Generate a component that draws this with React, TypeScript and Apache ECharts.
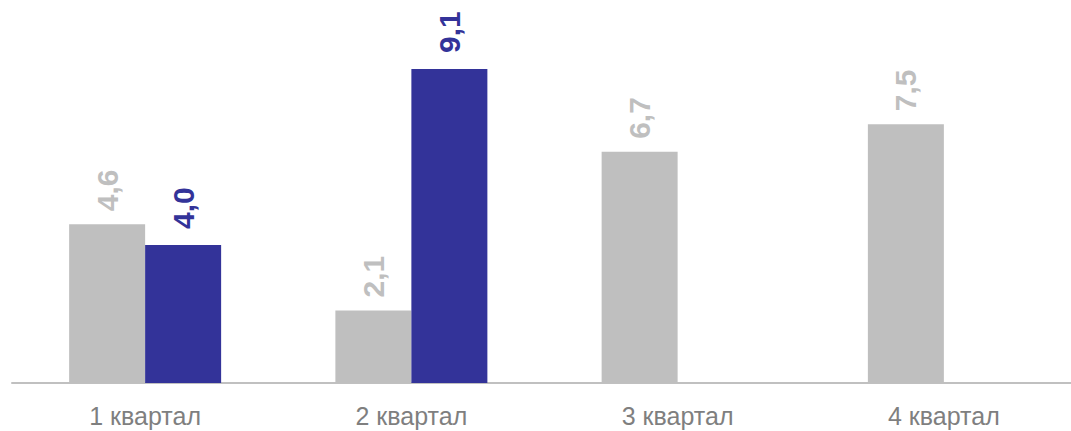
import React, { useEffect, useRef } from "react";
import * as echarts from "echarts";

const categories = ["1 квартал", "2 квартал", "3 квартал", "4 квартал"];
const prevValues = [4.6, 2.1, 6.7, 7.5];
const currValues: (number | null)[] = [4.0, 9.1, null, null];

const FONT = "'Liberation Sans', Arial, sans-serif";

const fmt = (p: any) =>
  p.value == null ? "" : Number(p.value).toFixed(1).replace(".", ",");

export default function App() {
  const ref = useRef<HTMLDivElement>(null);
  useEffect(() => {
    if (!ref.current) return;
    const chart = echarts.init(ref.current, null, { renderer: "svg" });
    chart.setOption({
      animation: false,
      backgroundColor: "#ffffff",
      grid: {
        left: 12,
        width: 1065,
        top: 38,
        height: 345,
        containLabel: false,
        outerBoundsMode: "none",
      },
      xAxis: {
        type: "category",
        data: categories,
        axisLine: { show: true, lineStyle: { color: "#c0c0c0", width: 2 } },
        axisTick: { show: false },
        axisLabel: {
          color: "#7f7f7f",
          fontSize: 25,
          fontFamily: FONT,
          margin: 20,
        },
      },
      yAxis: {
        type: "value",
        min: 0,
        max: 10,
        show: false,
        splitLine: { show: false },
      },
      series: [
        {
          type: "bar",
          data: prevValues,
          barWidth: 76,
          barGap: "0%",
          itemStyle: { color: "#bfbfbf" },
          label: {
            show: true,
            position: "top",
            rotate: 90,
            align: "left",
            verticalAlign: "middle",
            distance: 13,
            color: "#bfbfbf",
            fontSize: 30,
            fontWeight: "bold",
            fontFamily: FONT,
            formatter: fmt,
          },
        },
        {
          type: "bar",
          data: currValues,
          barWidth: 76,
          barGap: "0%",
          itemStyle: { color: "#333399" },
          label: {
            show: true,
            position: "top",
            rotate: 90,
            align: "left",
            verticalAlign: "middle",
            distance: 16,
            color: "#333399",
            fontSize: 30,
            fontWeight: "bold",
            fontFamily: FONT,
            formatter: fmt,
          },
        },
      ],
    });
    return () => chart.dispose();
  }, []);
  return (
    <div
      ref={ref}
      style={{
        position: "absolute",
        left: 0,
        top: 0,
        width: 1071,
        height: 431,
        overflow: "hidden",
      }}
    />
  );
}
